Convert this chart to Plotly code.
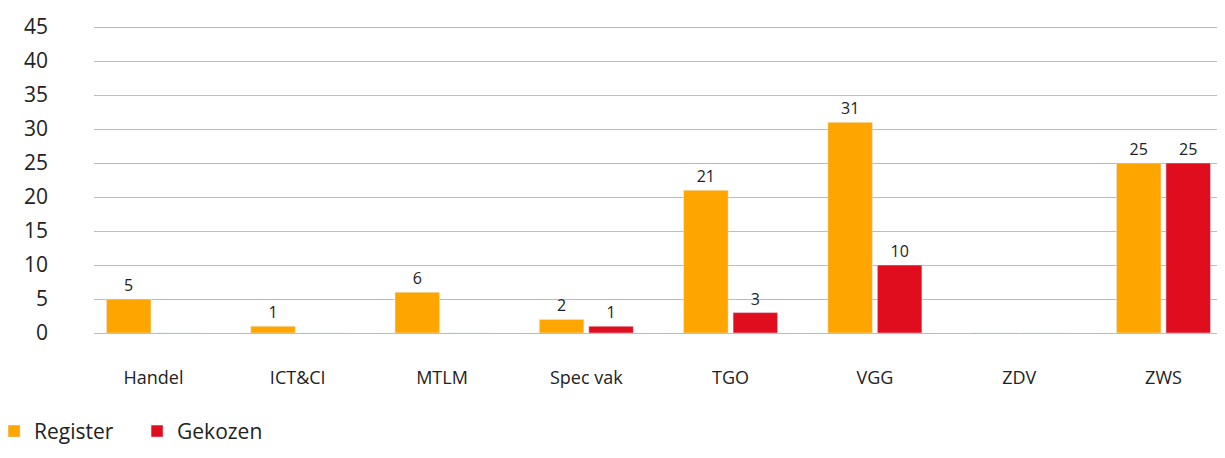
import plotly.graph_objects as go

categories = ["Handel", "ICT&CI", "MTLM", "Spec vak", "TGO", "VGG", "ZDV", "ZWS"]
register = [5, 1, 6, 2, 21, 31, 0, 25]
gekozen = [0, 0, 0, 1, 3, 10, 0, 25]
y_ticks = [0, 5, 10, 15, 20, 25, 30, 35, 40, 45]

def labels(vals):
    return [str(v) if v else "" for v in vals]

fig = go.Figure()
fig.add_trace(go.Bar(
    name="Register", x=categories, y=register, marker_color="#FFA500",
    text=labels(register), textposition="outside", cliponaxis=False,
    textfont=dict(size=16, color="#222"),
))
fig.add_trace(go.Bar(
    name="Gekozen", x=categories, y=gekozen, marker_color="#E00D1E",
    text=labels(gekozen), textposition="outside", cliponaxis=False,
    textfont=dict(size=16, color="#222"),
))

fig.update_layout(
    width=1209, height=442,
    margin=dict(l=86, r=0, t=17, b=117, autoexpand=False),
    paper_bgcolor="white", plot_bgcolor="white",
    font=dict(family="Open Sans", color="#222"),
    barmode="group", bargap=0.314, bargroupgap=0.1,
    legend=dict(orientation="h", xref="paper", yref="paper",
                x=-0.089, xanchor="left", y=-0.386, yanchor="bottom",
                font=dict(size=21), itemwidth=30, entrywidth=98,
                entrywidthmode="pixels", traceorder="normal"),
)
fig.update_xaxes(range=[-0.412, 7.371], showgrid=False, showline=False, ticks="",
                 ticklabelstandoff=32, tickfont=dict(size=18), automargin=False)
fig.update_yaxes(range=[0, 45.3], tickvals=y_ticks, showgrid=True, gridcolor="#BDBDBD",
                 gridwidth=1, zeroline=True, zerolinecolor="#BDBDBD", zerolinewidth=1,
                 ticks="", ticklabelstandoff=45, tickfont=dict(size=21), automargin=False)

fig.write_html("out.html")
